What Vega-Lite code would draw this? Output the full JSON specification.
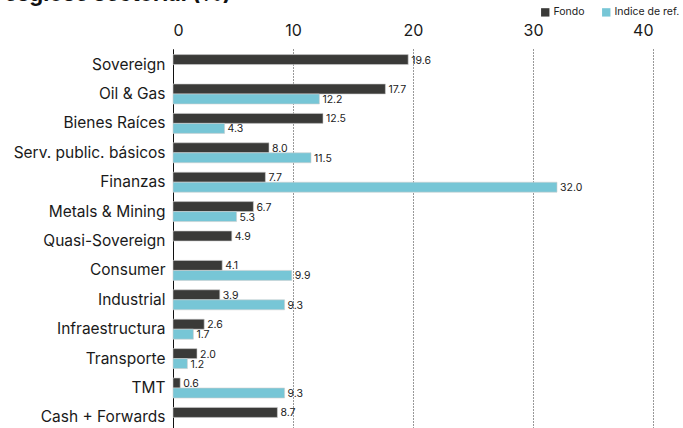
{
  "$schema": "https://vega.github.io/schema/vega-lite/v6.json",
  "width": 480,
  "height": 384,
  "autosize": {"type": "none"},
  "padding": {"left": 173, "top": 49, "right": 30, "bottom": 0},
  "title": {
    "text": "Desglose sectorial (%)",
    "anchor": "start",
    "frame": "group",
    "dx": -185,
    "dy": 16,
    "offset": 0,
    "baseline": "alphabetic",
    "fontSize": 22,
    "fontWeight": "bold",
    "font": "Inter",
    "color": "#111111"
  },
  "config": {
    "view": {"stroke": null},
    "font": "Inter"
  },
  "data": {
    "values": [
      {"cat": "Sovereign", "series": "Fondo", "value": 19.6},
      {"cat": "Oil & Gas", "series": "Fondo", "value": 17.7},
      {"cat": "Oil & Gas", "series": "Indice de ref.", "value": 12.2},
      {"cat": "Bienes Raíces", "series": "Fondo", "value": 12.5},
      {"cat": "Bienes Raíces", "series": "Indice de ref.", "value": 4.3},
      {"cat": "Serv. public. básicos", "series": "Fondo", "value": 8.0},
      {"cat": "Serv. public. básicos", "series": "Indice de ref.", "value": 11.5},
      {"cat": "Finanzas", "series": "Fondo", "value": 7.7},
      {"cat": "Finanzas", "series": "Indice de ref.", "value": 32.0},
      {"cat": "Metals & Mining", "series": "Fondo", "value": 6.7},
      {"cat": "Metals & Mining", "series": "Indice de ref.", "value": 5.3},
      {"cat": "Quasi-Sovereign", "series": "Fondo", "value": 4.9},
      {"cat": "Consumer", "series": "Fondo", "value": 4.1},
      {"cat": "Consumer", "series": "Indice de ref.", "value": 9.9},
      {"cat": "Industrial", "series": "Fondo", "value": 3.9},
      {"cat": "Industrial", "series": "Indice de ref.", "value": 9.3},
      {"cat": "Infraestructura", "series": "Fondo", "value": 2.6},
      {"cat": "Infraestructura", "series": "Indice de ref.", "value": 1.7},
      {"cat": "Transporte", "series": "Fondo", "value": 2.0},
      {"cat": "Transporte", "series": "Indice de ref.", "value": 1.2},
      {"cat": "TMT", "series": "Fondo", "value": 0.6},
      {"cat": "TMT", "series": "Indice de ref.", "value": 9.3},
      {"cat": "Cash + Forwards", "series": "Fondo", "value": 8.7}
    ]
  },
  "encoding": {
    "y": {
      "field": "cat",
      "type": "nominal",
      "sort": ["Sovereign", "Oil & Gas", "Bienes Raíces", "Serv. public. básicos", "Finanzas", "Metals & Mining", "Quasi-Sovereign", "Consumer", "Industrial", "Infraestructura", "Transporte", "TMT", "Cash + Forwards"],
      "scale": {"paddingInner": 0.32, "paddingOuter": 0.19},
      "axis": {
        "title": null,
        "ticks": false,
        "domain": true,
        "domainColor": "#111111",
        "domainWidth": 1,
        "labelFontSize": 15.5,
        "labelColor": "#1a1a1a",
        "labelPadding": 8,
        "grid": false
      }
    },
    "yOffset": {
      "field": "series",
      "type": "nominal",
      "scale": {"domain": ["Fondo", "Indice de ref."]}
    },
    "x": {
      "field": "value",
      "type": "quantitative",
      "scale": {"domain": [0, 40], "nice": false},
      "axis": {
        "orient": "top",
        "title": null,
        "values": [0, 10, 20, 30, 40],
        "ticks": false,
        "domain": false,
        "grid": true,
        "gridDash": [1, 2],
        "gridColor": "#333333",
        "gridWidth": 1,
        "labelFontSize": 16,
        "labelColor": "#1a1a1a",
        "labelPadding": 11
      }
    }
  },
  "layer": [
    {
      "mark": {"type": "bar", "stroke": "#cfcfcf", "strokeWidth": 0.6},
      "encoding": {
        "color": {
          "field": "series",
          "type": "nominal",
          "scale": {"domain": ["Fondo", "Indice de ref."], "range": ["#3a3a38", "#77c6d6"]},
          "legend": {
            "orient": "none",
            "legendX": 367,
            "legendY": -42,
            "direction": "horizontal",
            "title": null,
            "symbolType": "square",
            "symbolSize": 70,
            "symbolStrokeWidth": 0,
            "labelFontSize": 10.5,
            "labelColor": "#222222",
            "labelOffset": 3,
            "columnPadding": 16
          }
        }
      }
    },
    {
      "mark": {"type": "text", "align": "left", "baseline": "middle", "dx": 3, "dy": 1, "fontSize": 10.5, "color": "#222222"},
      "encoding": {
        "text": {"field": "value", "type": "quantitative", "format": ".1f"}
      }
    }
  ]
}
